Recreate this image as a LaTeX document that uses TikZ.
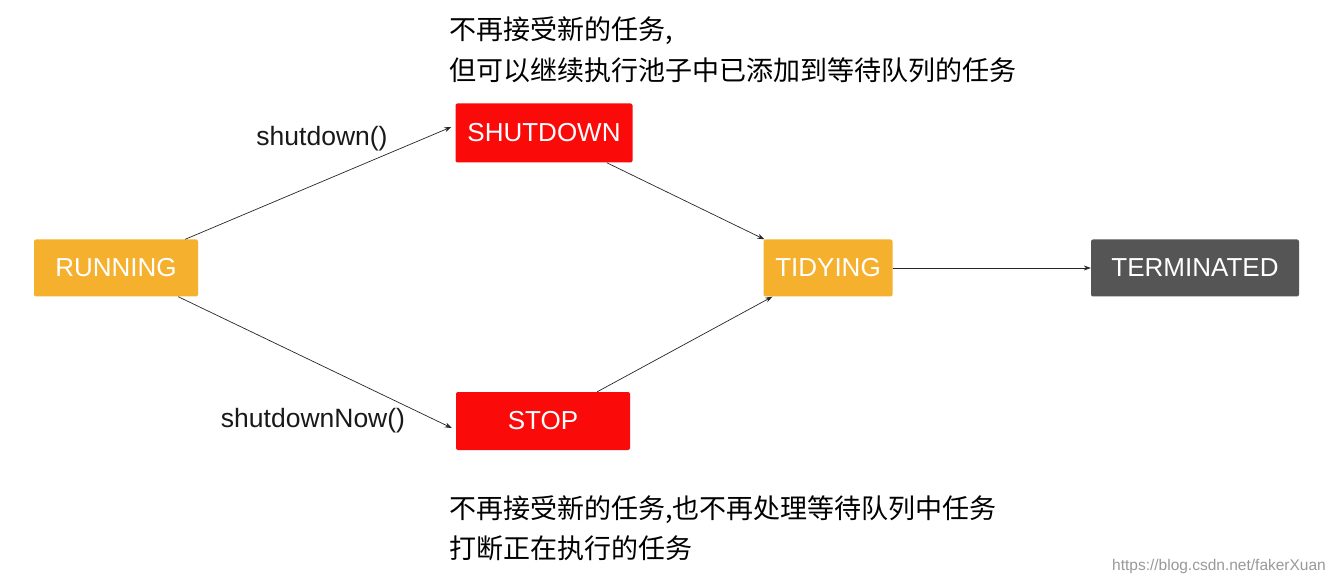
\documentclass[tikz,border=0pt]{standalone}
\usepackage{fontspec}
\setmainfont{Liberation Sans}
\newfontfamily\cjk{Noto Sans CJK SC}
\usetikzlibrary{arrows.meta}
\definecolor{orng}{HTML}{F5B02E}
\definecolor{rd}{HTML}{FB0A0A}
\definecolor{dk}{HTML}{555555}
\tikzset{
 state/.style={rounded corners=2pt, minimum height=57pt, text=white, font=\fontsize{26}{30}\selectfont, inner sep=0pt},
 conn/.style={-{Stealth[length=7pt,width=5pt]}, line width=0.7pt, black!85},
 lbl/.style={font=\fontsize{26.5}{31}\selectfont, text=black!90},
 note/.style={font=\cjk\fontsize{27}{39}\selectfont, align=left, anchor=west, inner sep=0pt}
}
\begin{document}
\begin{tikzpicture}[x=1pt,y=-1pt]
\useasboundingbox[fill=white] (0,0) rectangle (1336,585);
\node[state, fill=orng, minimum width=164pt] (run) at (116,268) {RUNNING};
\node[state, fill=rd, minimum width=177pt, minimum height=59pt] (sd) at (544,133) {SHUTDOWN};
\node[state, fill=rd, minimum width=174pt, minimum height=58pt] (stop) at (543,421) {STOP};
\node[state, fill=orng, minimum width=129pt] (tidy) at (828,268) {TIDYING};
\node[state, fill=dk, minimum width=208pt] (term) at (1195,268) {TERMINATED};
\draw[conn] ([xshift=-13pt]run.north east) -- ([xshift=-4pt,yshift=6pt]sd.west);
\draw[conn] ([xshift=-20pt]run.south east) -- ([xshift=-4pt,yshift=-7pt]stop.west);
\draw[conn] ([xshift=-26pt]sd.south east) -- ([xshift=1pt]tidy.north west);
\draw[conn] ([xshift=-33pt]stop.north east) -- ([xshift=9pt]tidy.south west);
\draw[conn] (tidy.east) -- (term.west);
\node[lbl] (l1) at (322,139) {shutdown()};
\node[lbl] (l2) at (313,421) {shutdownNow()};
\node[note] (n1a) at (449,31) {不再接受新的任务,};
\node[note] (n1b) at (449,70) {但可以继续执行池子中已添加到等待队列的任务};
\node[note] (n2a) at (449,510) {不再接受新的任务,也不再处理等待队列中任务};
\node[note] (n2b) at (449,548) {打断正在执行的任务};
\node[font=\fontsize{15.5}{17}\selectfont, text=black!40] (wm) at (1219,566) {https://blog.csdn.net/fakerXuan};
\end{tikzpicture}
\end{document}
